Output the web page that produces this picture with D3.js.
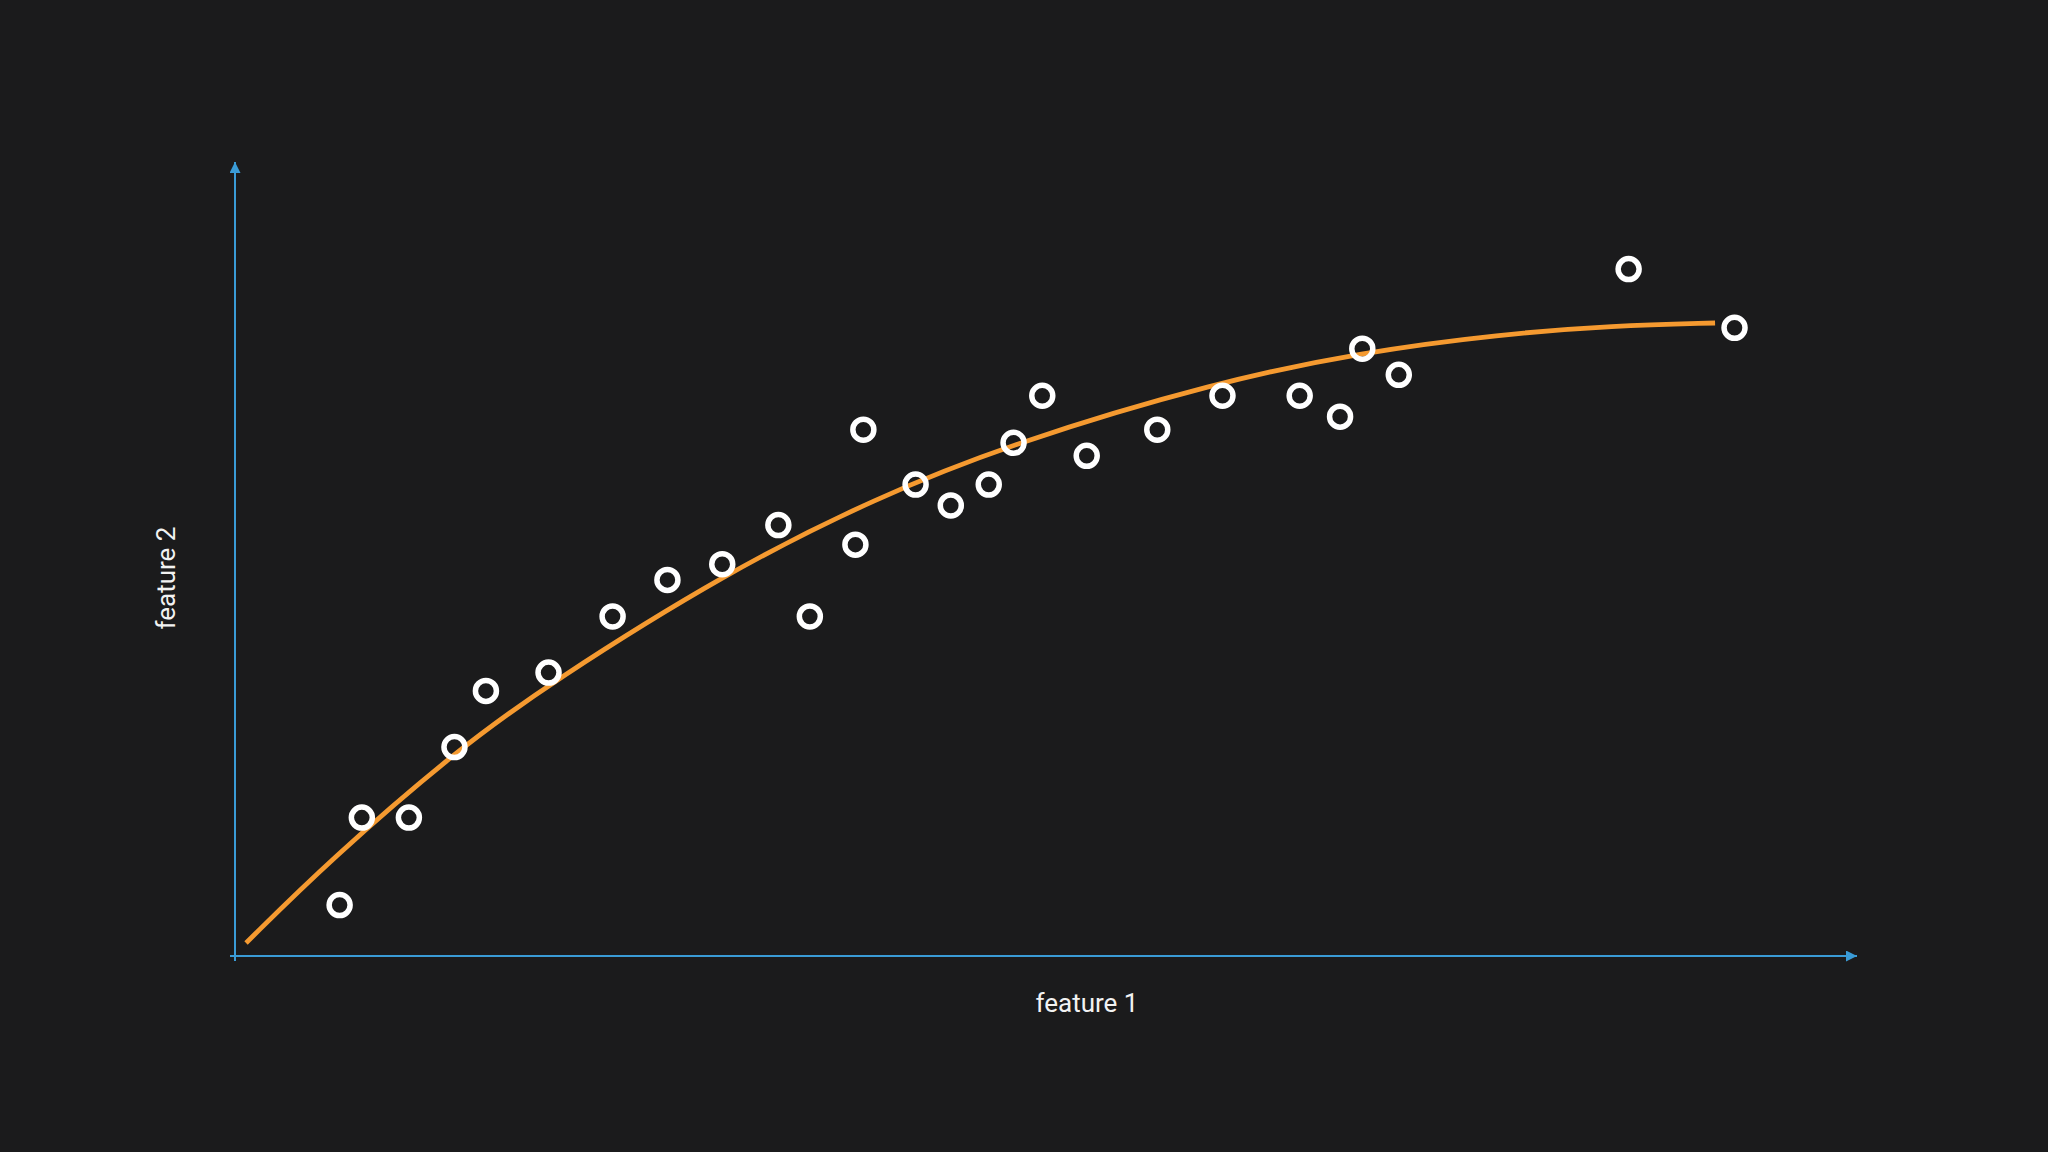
<html>
<head>
<script src="https://cdnjs.cloudflare.com/ajax/libs/d3/7.8.5/d3.min.js"></script>
<style>
  body { margin: 0; background: #1b1b1c; }
  svg { display: block; }
</style>
</head>
<body>
<svg width="2048" height="1152"></svg>
<script>
// scatter points (feature 1, feature 2), axis units 0..100
var featureX = [6.45, 7.82, 10.72, 13.53, 15.47, 19.33, 23.28, 26.66, 30.04, 33.50,
                35.44, 38.25, 38.74, 41.96, 44.13, 46.47, 48.00, 49.77, 52.51, 56.86,
                60.88, 65.64, 68.13, 69.50, 71.75, 85.92, 92.45];
var featureY = [6.41, 17.43, 17.43, 26.31, 33.39, 35.69, 42.76, 47.37, 49.35, 54.27,
                42.76, 51.81, 66.28, 59.37, 56.74, 59.37, 64.64, 70.56, 63.00, 66.28,
                70.56, 70.56, 67.93, 76.49, 73.19, 86.51, 79.12];

// fitted curve
var fitX = [0.68, 5.86, 13.69, 19.42, 30.33, 39.5, 47.97, 60.54, 69.54, 78.0, 85.0, 91.25];
var fitY = [1.64, 12.09, 25.94, 34.38, 48.36, 57.7, 64.61, 72.29, 76.07, 78.3, 79.4, 79.72];

var xLabel = "feature 1", yLabel = "feature 2";

var svg = d3.select("svg");
var x = d3.scaleLinear().domain([0, 100]).range([235, 1857]);
var y = d3.scaleLinear().domain([0, 100]).range([956, 162]);

var axisColor = "#3a9bd6";
var defs = svg.append("defs");
defs.append("marker").attr("id", "arrow")
    .attr("viewBox", "0 0 10 10").attr("refX", 10).attr("refY", 5)
    .attr("markerWidth", 11).attr("markerHeight", 11).attr("markerUnits", "userSpaceOnUse")
    .attr("orient", "auto")
  .append("path").attr("d", "M0,0L10,5L0,10Z").attr("fill", axisColor);

// axes
svg.append("line")
    .attr("x1", x(0) - 5).attr("x2", x.range()[1])
    .attr("y1", y(0)).attr("y2", y(0))
    .attr("stroke", axisColor).attr("stroke-width", 2)
    .attr("marker-end", "url(#arrow)");
svg.append("line")
    .attr("x1", x(0)).attr("x2", x(0))
    .attr("y1", y(0) + 5).attr("y2", y.range()[1])
    .attr("stroke", axisColor).attr("stroke-width", 2)
    .attr("marker-end", "url(#arrow)");

svg.append("text")
    .attr("x", 1087).attr("y", 1012)
    .attr("text-anchor", "middle")
    .style("font-family", "Roboto, 'Open Sans', sans-serif")
    .style("font-size", "26px").style("fill", "#f2f2f2")
    .text(xLabel);
svg.append("text")
    .attr("transform", "translate(175,578) rotate(-90)")
    .attr("text-anchor", "middle")
    .style("font-family", "Roboto, 'Open Sans', sans-serif")
    .style("font-size", "26px").style("fill", "#f2f2f2")
    .text(yLabel);

// curve
var fit = fitX.map((d, i) => [d, fitY[i]]);
svg.append("path")
    .datum(fit)
    .attr("d", d3.line().x(d => x(d[0])).y(d => y(d[1])).curve(d3.curveBasis))
    .attr("fill", "none")
    .attr("stroke", "#f59a30")
    .attr("stroke-width", 4.8);

// points
var pts = featureX.map((d, i) => ({fx: d, fy: featureY[i]}));
svg.selectAll("circle.pt")
    .data(pts)
    .enter()
    .append("circle")
    .attr("class", "pt")
    .attr("cx", d => x(d.fx))
    .attr("cy", d => y(d.fy))
    .attr("r", 10.5)
    .attr("fill", "none")
    .attr("stroke", "white")
    .attr("stroke-width", 5.5);
</script>
</body>
</html>
